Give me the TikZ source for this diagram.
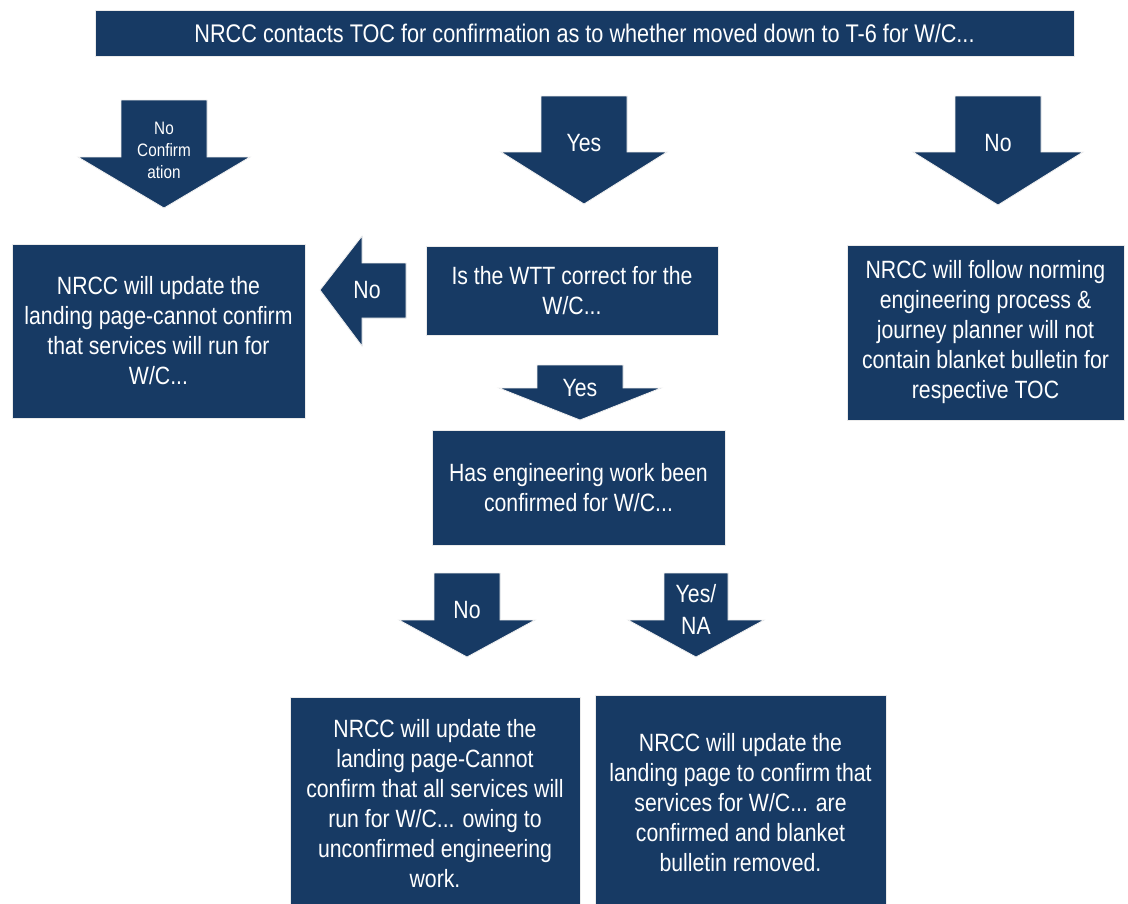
\documentclass[tikz,border=0pt]{standalone}
\usepackage{fontspec}
\setmainfont{Liberation Sans}[FakeStretch=0.85]
\definecolor{navy}{RGB}{23,58,100}
\tikzset{
  box/.style={fill=navy, draw=black!8, line width=0.8pt, text=white, align=center, inner sep=0pt,
    font=\fontsize{25}{30}\selectfont},
  blockarrow/.style={fill=navy, draw=black!6, line width=0.8pt},
  alabel/.style={text=white, align=center, inner sep=0pt, font=\fontsize{25}{32}\selectfont},
  smalllabel/.style={alabel, font=\fontsize{18}{22}\selectfont}
}
% #1 name, #2 cx, #3 top, #4 shaft half, #5 wing half, #6 wing y, #7 tip y, #8 label y, #9 label
\newcommand\dnarrow[9]{%
  \fill[blockarrow] (#2-#4,#3) -- (#2+#4,#3) -- (#2+#4,#6) -- (#2+#5,#6) -- (#2,#7)
     -- (#2-#5,#6) -- (#2-#4,#6) -- cycle;
  \node[alabel] (#1) at (#2,#8) {#9};}
\begin{document}
\begin{tikzpicture}[x=1pt,y=-1pt]
\useasboundingbox (0,0) rectangle (1128,903);
\fill[white] (0,0) rectangle (1128,903);

\node[box, minimum width=979pt, minimum height=46pt, font=\fontsize{25.5}{28}\selectfont] (top) at (584.5,33)
  {NRCC contacts TOC for confirmation as to whether moved down to T-6 for W/C...};

\dnarrow{aNoConfShape}{164}{100}{43}{86}{157}{208}{150}{}
\node[smalllabel] (aNoConf) at (164,150) {No\\Confirm\\ation};
\dnarrow{aYes}{584}{96}{43}{83}{152}{204}{143}{Yes}
\dnarrow{aNo}{998}{96}{43}{85}{152}{205}{143}{No}

\node[box, minimum width=293pt, minimum height=174pt] (left) at (158.5,331)
  {NRCC will update the\\landing page-cannot confirm\\that services will run for\\W/C...};
\node[box, minimum width=292pt, minimum height=89pt] (wtt) at (572,290.5)
  {Is the WTT correct for the\\W/C...};
\node[box, minimum width=277pt, minimum height=175pt] (right) at (985.5,332.5)
  {NRCC will follow norming\\engineering process \&\\journey planner will not\\contain blanket bulletin for\\respective TOC};

% left-pointing arrow between wtt and left
\fill[blockarrow] (406,263) -- (362,263) -- (362,236) -- (320,290) -- (362,346) -- (362,318) -- (406,318) -- cycle;
\node[alabel] (aLeftNo) at (367,290) {No};

\dnarrow{aYes2}{580}{365}{43}{81}{388}{420}{388}{Yes}

\node[box, minimum width=293pt, minimum height=115pt] (eng) at (578.5,487.5)
  {Has engineering work been\\confirmed for W/C...};

\dnarrow{aNo2}{467}{573}{33}{68}{620}{657}{610}{No}
\dnarrow{aYesNA}{696}{573}{32}{68}{620}{657}{609}{Yes/\\NA}

\node[box, minimum width=290pt, minimum height=213pt] (ll) at (435,803.5)
  {NRCC will update the\\landing page-Cannot\\confirm that all services will\\run for W/C... owing to\\unconfirmed engineering\\work.};
\node[box, minimum width=291pt, minimum height=215pt] (lr) at (740.5,802.5)
  {NRCC will update the\\landing page to confirm that\\services for W/C... are\\confirmed and blanket\\bulletin removed.};
\end{tikzpicture}
\end{document}
